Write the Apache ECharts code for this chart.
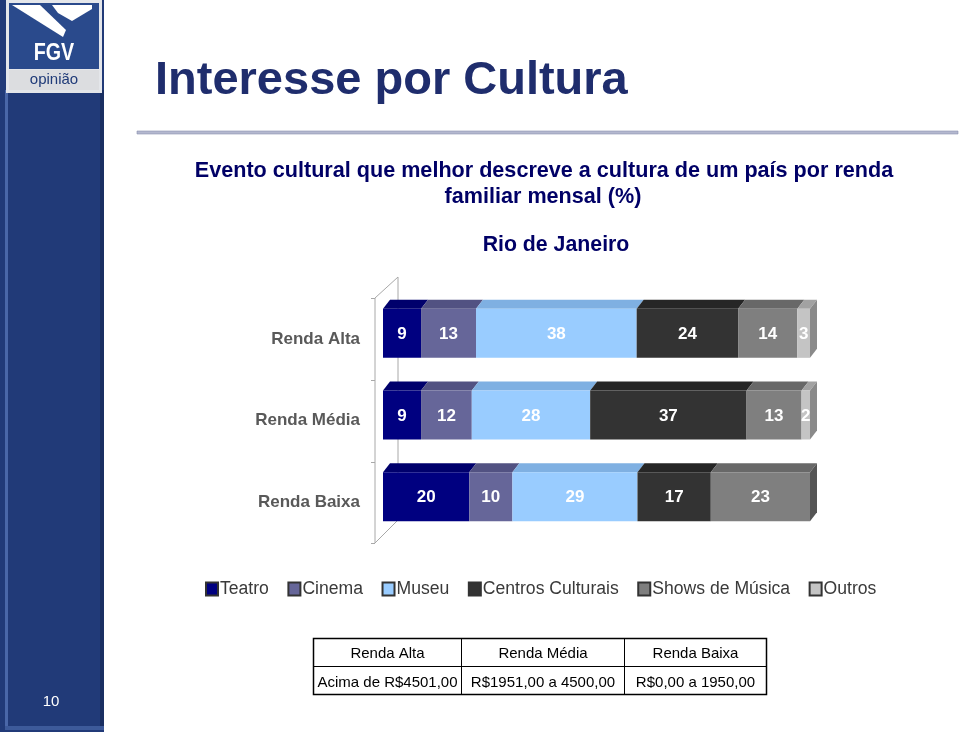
<!DOCTYPE html>
<html><head><meta charset="utf-8">
<script src="https://cdn.jsdelivr.net/npm/echarts@6/dist/echarts.min.js"></script>
<style>html,body{margin:0;padding:0;background:#fff}#c{width:960px;height:732px}</style>
</head><body><div id="c"></div>
<script>
const categories = ['Renda Alta', 'Renda Média', 'Renda Baixa'];
const seriesNames = ['Teatro', 'Cinema', 'Museu', 'Centros Culturais', 'Shows de Música', 'Outros'];
const teatro  = [9, 9, 20];
const cinema  = [13, 12, 10];
const museu   = [38, 28, 29];
const centros = [24, 37, 17];
const shows   = [14, 13, 23];
const outros  = [3, 2, 0];
const tableHeader = ['Renda Alta', 'Renda Média', 'Renda Baixa'];
const tableRow = ['Acima de R$4501,00', 'R$1951,00 a 4500,00', 'R$0,00 a 1950,00'];
const titleText = 'Interesse por Cultura';
const subtitle1 = 'Evento cultural que melhor descreve a cultura de um país por renda';
const subtitle2 = 'familiar mensal (%)';
const cityText = 'Rio de Janeiro';
const pageNumber = '10';

const values = [teatro, cinema, museu, centros, shows, outros];
const colors = ['#000080', '#666699', '#99CCFF', '#333333', '#7f7f7f', '#C4C4C4'];
const topColors = ['#00006c', '#525282', '#7fb0e2', '#262626', '#686868', '#a2a2a2'];
const sideColors = ['#00005a', '#4a4a72', '#6e98c4', '#1e1e1e', '#555555', '#8a8a8a'];
const FONT = '"Liberation Sans", Arial, Helvetica, sans-serif';

// percent-stacking (100% stacked bars)
const totals = categories.map((_, ci) => values.reduce((s, arr) => s + arr[ci], 0));
const lastIdx = categories.map((_, ci) => { let l = 0; values.forEach((arr, j) => { if (arr[ci] > 0) l = j; }); return l; });
const cum = categories.map(() => 0);
const seriesData = values.map((arr, j) => arr.map((v, ci) => {
  const s = cum[ci] / totals[ci] * 100;
  cum[ci] += v;
  const e = cum[ci] / totals[ci] * 100;
  return [s, e, ci, v, lastIdx[ci] === j ? 1 : 0];
}));

function makeRender(j) {
  return function (params, api) {
    const v = api.value(3);
    if (!v) return null;
    const p0 = api.coord([api.value(0), api.value(2)]);
    const p1 = api.coord([api.value(1), api.value(2)]);
    const x0 = p0[0], x1 = p1[0], yc = p0[1];
    const yt = yc - 30, yb = yc + 19, dx = 7, dy = -9;
    const children = [
      { type: 'polygon', shape: { points: [[x0, yt], [x0 + dx, yt + dy], [x1 + dx, yt + dy], [x1, yt]] }, style: { fill: topColors[j] } },
      { type: 'rect', shape: { x: x0, y: yt, width: x1 - x0, height: yb - yt }, style: { fill: colors[j] } }
    ];
    if (api.value(4)) {
      children.push({ type: 'polygon', shape: { points: [[x1, yt], [x1 + dx, yt + dy], [x1 + dx, yb + dy], [x1, yb]] }, style: { fill: sideColors[j] } });
    }
    children.push({ type: 'text', x: (x0 + x1) / 2, y: (yt + yb) / 2 + 1, style: { text: String(v), fill: '#ffffff', font: 'bold 17px ' + FONT, textAlign: 'center', textVerticalAlign: 'middle' } });
    return { type: 'group', children };
  };
}

const graphics = [
  // sidebar
  { type: 'rect', shape: { x: 0, y: 0, width: 104, height: 732 }, style: { fill: '#213a78' } },
  { type: 'rect', shape: { x: 5, y: 90, width: 3, height: 640 }, style: { fill: '#4a67a8' } },
  { type: 'rect', shape: { x: 100, y: 90, width: 4, height: 640 }, style: { fill: '#1a2f62' } },
  { type: 'rect', shape: { x: 5, y: 726, width: 99, height: 4 }, style: { fill: '#3d5a9a' } },
  // logo
  { type: 'rect', shape: { x: 6, y: 0, width: 96, height: 93 }, style: { fill: '#e4e6ea' } },
  { type: 'rect', shape: { x: 9, y: 3, width: 90, height: 66 }, style: { fill: '#2a4a8c' } },
  { type: 'polygon', shape: { points: [[12, 5], [40, 5], [66, 30], [63, 37]] }, style: { fill: '#ffffff' } },
  { type: 'polygon', shape: { points: [[52, 5], [92, 5], [92, 9], [72, 21], [58, 13]] }, style: { fill: '#ffffff' } },
  { type: 'text', x: 54, y: 53, scaleX: 0.82, style: { text: 'FGV', fill: '#ffffff', font: 'bold 24px ' + FONT, textAlign: 'center', textVerticalAlign: 'middle' } },
  { type: 'rect', shape: { x: 9, y: 70, width: 90, height: 20 }, style: { fill: '#dcdde0' } },
  { type: 'text', x: 54, y: 80, style: { text: 'opinião', fill: '#1f3a78', font: '15px ' + FONT, textAlign: 'center', textVerticalAlign: 'middle' } },
  // page number
  { type: 'text', x: 51, y: 702, style: { text: pageNumber, fill: '#ffffff', font: '15px ' + FONT, textAlign: 'center', textVerticalAlign: 'middle' } },
  // title
  { type: 'text', x: 155, y: 81, style: { text: titleText, fill: '#1f2d6d', font: 'bold 47px ' + FONT, textAlign: 'left', textVerticalAlign: 'middle' } },
  { type: 'rect', shape: { x: 137, y: 131, width: 821, height: 3 }, style: { fill: '#b4b8cf', stroke: '#8a90b0', lineWidth: 0.6 } },
  { type: 'text', x: 544, y: 171, style: { text: subtitle1, fill: '#000066', font: 'bold 21.6px ' + FONT, textAlign: 'center', textVerticalAlign: 'middle' } },
  { type: 'text', x: 543, y: 197, style: { text: subtitle2, fill: '#000066', font: 'bold 21.6px ' + FONT, textAlign: 'center', textVerticalAlign: 'middle' } },
  { type: 'text', x: 556, y: 245, style: { text: cityText, fill: '#000066', font: 'bold 21.3px ' + FONT, textAlign: 'center', textVerticalAlign: 'middle' } },
  // 3D wall
  { type: 'polyline', shape: { points: [[375, 298], [398, 277], [398, 520], [375, 543], [375, 298]] }, style: { stroke: '#a8a8a8', lineWidth: 1, fill: null } },
  { type: 'line', shape: { x1: 371, y1: 298.5, x2: 375, y2: 298.5 }, style: { stroke: '#a8a8a8' } },
  { type: 'line', shape: { x1: 371, y1: 380.5, x2: 375, y2: 380.5 }, style: { stroke: '#a8a8a8' } },
  { type: 'line', shape: { x1: 371, y1: 462.5, x2: 375, y2: 462.5 }, style: { stroke: '#a8a8a8' } },
  { type: 'line', shape: { x1: 371, y1: 543.5, x2: 375, y2: 543.5 }, style: { stroke: '#a8a8a8' } },
  // table
  { type: 'rect', shape: { x: 313.5, y: 638.5, width: 453, height: 56 }, style: { fill: '#ffffff', stroke: '#000', lineWidth: 1.5 } },
  { type: 'line', shape: { x1: 313.5, y1: 666.5, x2: 766.5, y2: 666.5 }, style: { stroke: '#000', lineWidth: 1 } },
  { type: 'line', shape: { x1: 461.5, y1: 638.5, x2: 461.5, y2: 694.5 }, style: { stroke: '#000', lineWidth: 1 } },
  { type: 'line', shape: { x1: 624.5, y1: 638.5, x2: 624.5, y2: 694.5 }, style: { stroke: '#000', lineWidth: 1 } }
];
const colCenters = [387.5, 543, 695.5];
tableHeader.forEach((t, i) => graphics.push({ type: 'text', x: colCenters[i], y: 654, style: { text: t, fill: '#000', font: '15px ' + FONT, textAlign: 'center', textVerticalAlign: 'middle' } }));
tableRow.forEach((t, i) => graphics.push({ type: 'text', x: colCenters[i], y: 682.5, style: { text: t, fill: '#000', font: '15px ' + FONT, textAlign: 'center', textVerticalAlign: 'middle' } }));

const chart = echarts.init(document.getElementById('c'), null, { renderer: 'canvas' });
chart.setOption({
  animation: false,
  backgroundColor: '#ffffff',
  textStyle: { fontFamily: FONT },
  graphic: { elements: graphics },
  grid: { left: 383, right: 150, top: 298, height: 245 },
  xAxis: { type: 'value', min: 0, max: 100, show: false },
  yAxis: {
    type: 'category', data: categories, inverse: true,
    axisLine: { show: false }, axisTick: { show: false }, splitLine: { show: false },
    axisLabel: { margin: 23, fontSize: 17, fontWeight: 'bold', color: '#595959', fontFamily: FONT }
  },
  legend: {
    data: seriesNames, left: 200, top: 575, icon: 'rect', itemWidth: 12, itemHeight: 13, itemGap: 18.5,
    textStyle: { fontSize: 17.6, color: '#3a3a3a', fontFamily: FONT, padding: [0, 0, 0, -3] }
  },
  series: seriesNames.map((name, j) => ({
    type: 'custom', name, renderItem: makeRender(j),
    itemStyle: { color: colors[j], borderColor: '#333', borderWidth: 0.5 },
    encode: { x: [0, 1], y: 2 },
    data: seriesData[j]
  }))
});
</script></body></html>
